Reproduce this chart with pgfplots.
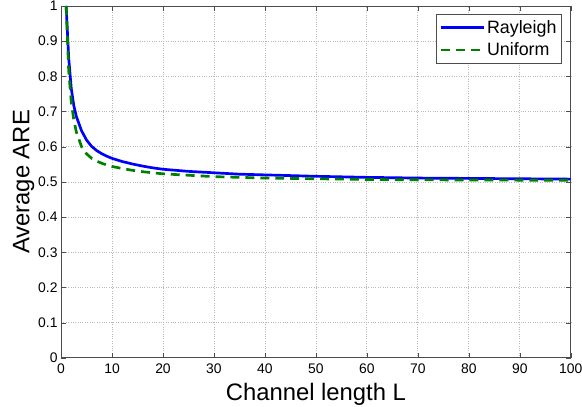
\documentclass[border=0pt]{standalone}
\usepackage{pgfplots}
\pgfplotsset{compat=1.18}
\usepackage{fontspec}
\setmainfont{Liberation Sans}

\pgfplotstableread{
L   are
1   1.000
1.5 0.852
2   0.766
2.5 0.717
3   0.686
4   0.646
5   0.619
6   0.601
7   0.589
8   0.580
9   0.573
10  0.567
12  0.558
14  0.551
16  0.545
18  0.540
20  0.536
25  0.530
30  0.526
35  0.522
40  0.520
50  0.516
60  0.513
70  0.511
80  0.510
90  0.509
100 0.508
}\rayleigh

\pgfplotstableread{
L   are
1   1.000
1.5 0.816
2   0.728
2.5 0.676
3   0.642
4   0.601
5   0.580
6   0.567
7   0.559
8   0.553
9   0.548
10  0.544
12  0.538
14  0.533
16  0.529
18  0.526
20  0.523
25  0.519
30  0.515
35  0.513
40  0.511
50  0.509
60  0.507
70  0.506
80  0.5055
90  0.505
100 0.505
}\uniform

\definecolor{mblue}{RGB}{0,0,255}
\definecolor{mgreen}{RGB}{0,128,0}

\begin{document}
\begin{tikzpicture}
\begin{axis}[
    scale only axis,
    width=511.7bp, height=353.3bp,
    xmin=0, xmax=100, ymin=0, ymax=1,
    xtick={0,10,...,100},
    ytick={0,0.1,...,1},
    yticklabels={0,0.1,0.2,0.3,0.4,0.5,0.6,0.7,0.8,0.9,1},
    grid=major,
    major grid style={gray!55, dotted, line width=0.8pt},
    tick align=inside,
    tick pos=both,
    major tick length=5bp,
    axis line style={black!70, line width=0.8pt},
    tick style={black!70},
    /pgf/number format/assume math mode=true,
    tick label style={font=\fontsize{14}{14}\selectfont},
    xticklabel style={yshift=-2.5bp},
    xlabel={Channel length L},
    ylabel={Average ARE},
    label style={font=\fontsize{24}{24}\selectfont},
    xlabel style={at={(axis description cs:0.5,-0.120)}, anchor=base},
    ylabel style={at={(axis description cs:-0.062,0.5)}, anchor=base},
    legend style={at={(1,1)}, anchor=north east, xshift=-9bp, yshift=-8.3bp,
        font=\fontsize{18}{18}\selectfont, draw=black!70, line width=0.6pt,
        inner xsep=3bp, inner ysep=4bp, row sep=4bp, cells={anchor=west}},
    legend image code/.code={\draw[#1] (0bp,0bp) -- (43bp,0bp);},
    legend cell align=left,
]
\addplot[mblue, line width=2.7pt] table[x=L, y=are] {\rayleigh};
\addlegendentry{Rayleigh}
\addplot[mgreen, line width=2.7pt, dash pattern=on 9bp off 6bp] table[x=L, y=are] {\uniform};
\addlegendentry{Uniform}
\end{axis}
\pgfresetboundingbox
\path (-61.3bp,-48.7bp) rectangle (523bp,359.3bp);
\end{tikzpicture}
\end{document}
